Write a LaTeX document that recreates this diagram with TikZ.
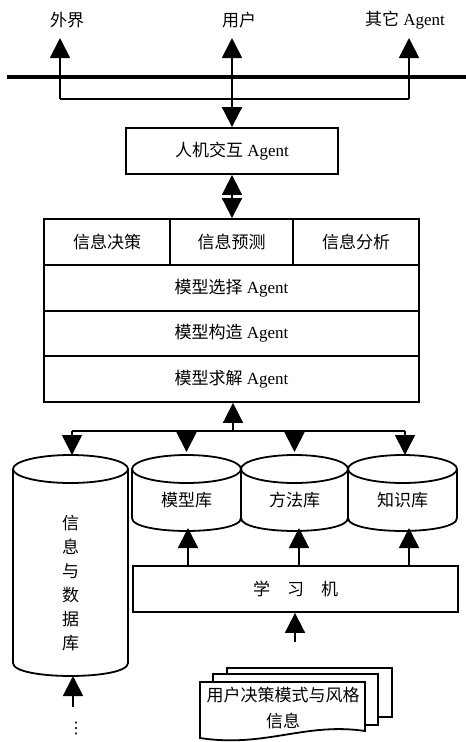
\documentclass[tikz,border=0pt]{standalone}
\usepackage{fontspec}
\setmainfont{Liberation Serif}
\newfontfamily\cjk{Noto Sans CJK SC}
\newfontfamily\symf{DejaVu Sans}
\usetikzlibrary{arrows.meta,calc}
\newcommand\mycyl[5]{% name, x0, x1, ytop, ybot
  \draw[lw,fill=white] (#2,#4) -- (#2,#5) .. controls (#2,#5+17.3) and (#3,#5+17.3) .. (#3,#5) -- (#3,#4);
  \draw[lw,fill=white] ({(#2+#3)/2},#4) ellipse [x radius={(#3-#2)/2}, y radius=14];
  \coordinate (#1-n) at ({(#2+#3)/2},#4-14);
  \coordinate (#1-s) at ({(#2+#3)/2},#5+13);
}
\begin{document}
\begin{tikzpicture}[x=1pt,y=-1pt,
  lw/.style={line width=1.8pt},
  arr/.style={lw,-{Triangle[width=20pt,length=20pt]}},
  darr/.style={lw,{Triangle[width=20pt,length=20pt]}-{Triangle[width=20pt,length=20pt]}},
  txt/.style={inner sep=0pt,font=\fontsize{17}{20}\selectfont},
  box/.style={draw,lw,rectangle,inner sep=0pt,fill=white,font=\fontsize{17}{20}\selectfont},
]
\useasboundingbox (0,0) rectangle (466,742);

% top labels
\node[txt] (ext) at (67,20) {\cjk 外界};
\node[txt] (usr) at (239,20) {\cjk 用户};
\node[txt] (oth) at (405,20) {{\cjk 其它} Agent};

% bus line
\coordinate (busL) at (7,77);
\coordinate (busR) at (466,77);
\draw[line width=4.5pt] (busL) -- (busR);

% bracket
\coordinate (bl) at (60,99);
\coordinate (br) at (409,99);
\coordinate (extIn) at (60,38);
\coordinate (othIn) at (409,38);
\coordinate (usrIn) at (232,38);
\draw[lw] (bl) -- (br);
\draw[arr] (bl) -- (extIn);
\draw[arr] (br) -- (othIn);

% HCI agent
\node[box,minimum width=212pt,minimum height=46pt] (hci) at (232,151) {{\cjk 人机交互} Agent};
\draw[darr] (usrIn) -- (hci.north);

% stack
\node[box,minimum width=126pt,minimum height=46pt] (c1) at (107,242) {\cjk 信息决策};
\node[box,minimum width=123pt,minimum height=46pt] (c2) at (231.5,242) {\cjk 信息预测};
\node[box,minimum width=126pt,minimum height=46pt] (c3) at (356,242) {\cjk 信息分析};
\node[box,minimum width=375pt,minimum height=46pt] (r1) at (231.5,288) {{\cjk 模型选择} Agent};
\node[box,minimum width=375pt,minimum height=45pt] (r2) at (231.5,333.5) {{\cjk 模型构造} Agent};
\node[box,minimum width=375pt,minimum height=46pt] (r3) at (231.5,379) {{\cjk 模型求解} Agent};

\draw[darr] (hci.south) -- (hci.south |- c2.north);

% distribution bus
\coordinate (hub) at (233,431);
\coordinate (hubL) at (72,431);
\coordinate (hubR) at (405,431);
\draw[lw] (hubL) -- (hubR);
\draw[arr] (hub) -- (hub |- r3.south);

% cylinders
\mycyl{db}{13}{128}{469}{663}
\mycyl{mdl}{132}{241}{469}{518}
\mycyl{mth}{241}{348}{469}{518}
\mycyl{kn}{348}{457}{469}{518}

\node[txt] (mdlT) at (186.5,500) {\cjk 模型库};
\node[txt] (mthT) at (294.5,500) {\cjk 方法库};
\node[txt] (knT) at (402.5,500) {\cjk 知识库};
\node[txt,align=center,font=\fontsize{17}{24}\selectfont] (dbT) at (70.5,583) {\cjk 信\\\cjk 息\\\cjk 与\\\cjk 数\\\cjk 据\\\cjk 库};

\draw[arr] (hubL) -- (hubL |- db-n);
\draw[arr] (hubL -| mdl-n) -- ([yshift=3pt]mdl-n);
\draw[arr] (hubL -| mth-n) -- ([yshift=3pt]mth-n);
\draw[arr] (hubR) -- (hubR |- kn-n);

% learning machine
\node[box,minimum width=325pt,minimum height=46pt] (learn) at (295.5,589) {\cjk 学\quad 习\quad 机};
\coordinate (mdlIn) at (188,528);
\coordinate (mthIn) at (299,528);
\coordinate (knIn) at (409,528);
\draw[arr] (learn.north -| mdlIn) -- (mdlIn);
\draw[arr] (learn.north -| mthIn) -- (mthIn);
\draw[arr] (learn.north -| knIn) -- (knIn);

\coordinate (docIn) at (295,642);
\draw[arr] (docIn) -- (docIn |- learn.south);

% database input
\coordinate (dbIn) at (73,707);
\draw[arr] (dbIn) -- (dbIn |- db-s);
\node[inner sep=0pt,font=\symf\fontsize{16}{16}\selectfont] (dots) at (76,729) {⋮};

% documents
\draw[lw,fill=white] (227,668) rectangle (392,717);
\draw[lw,fill=white] (213,674) rectangle (378,725);
\draw[lw,fill=white] (200,682) -- (365,682) -- (365,731) .. controls (305,722) and (265,748) .. (200,738) -- cycle;
\node[txt,align=center,font=\fontsize{17}{26}\selectfont] (doc) at (283,708) {\cjk 用户决策模式与风格\\\cjk 信息};
\end{tikzpicture}
\end{document}
